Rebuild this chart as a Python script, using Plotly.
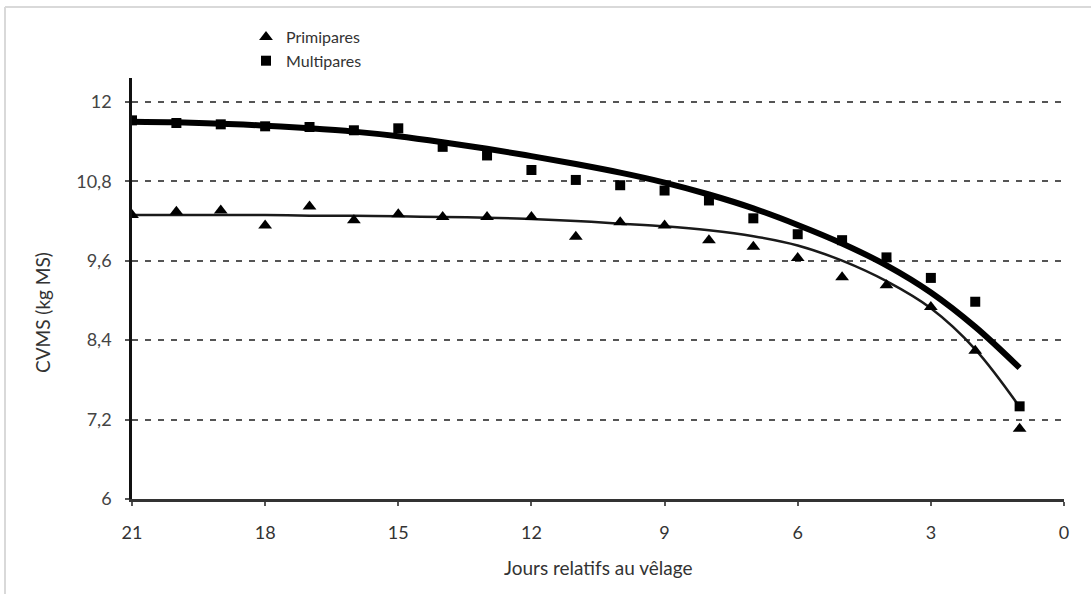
import plotly.graph_objects as go

# ---- data ----
days = [21, 20, 19, 18, 17, 16, 15, 14, 13, 12, 11, 10, 9, 8, 7, 6, 5, 4, 3, 2, 1]
primipares = [10.29, 10.34, 10.36, 10.13, 10.42, 10.21, 10.30, 10.26, 10.26, 10.26, 9.96,
              10.18, 10.13, 9.91, 9.81, 9.64, 9.35, 9.23, 8.90, 8.24, 7.06]
multipares = [11.72, 11.68, 11.66, 11.63, 11.62, 11.57, 11.60, 11.32, 11.19, 10.97, 10.82,
              10.74, 10.66, 10.51, 10.24, 10.00, 9.91, 9.65, 9.34, 8.98, 7.40]
fit_primipares = [10.29, 10.29, 10.29, 10.29, 10.28, 10.28, 10.27, 10.26, 10.25, 10.23, 10.20,
                  10.16, 10.12, 10.06, 9.97, 9.83, 9.60, 9.29, 8.88, 8.26, 7.39]
fit_multipares = [11.70, 11.69, 11.67, 11.64, 11.60, 11.55, 11.48, 11.39, 11.29, 11.18, 11.06,
                  10.93, 10.78, 10.60, 10.39, 10.14, 9.86, 9.53, 9.12, 8.60, 7.98]

x_ticks = [21, 18, 15, 12, 9, 6, 3, 0]
y_ticks = [6, 7.2, 8.4, 9.6, 10.8, 12]
y_ticktext = ["6", "7,2", "8,4", "9,6", "10,8", "12"]

FONT = "Lato, 'Open Sans', sans-serif"
W, H = 1091, 594
ML, MR, MT, MB = 132, 27, 78, 95

fig = go.Figure()

fig.add_trace(go.Scatter(x=days, y=fit_multipares, mode="lines", line=dict(color="#000000", width=6, shape="spline"),
                         showlegend=False, hoverinfo="skip"))
fig.add_trace(go.Scatter(x=days, y=fit_primipares, mode="lines", line=dict(color="#1a1a1a", width=2.5, shape="spline"),
                         showlegend=False, hoverinfo="skip"))
fig.add_trace(go.Scatter(x=days, y=primipares, mode="markers", name="Primipares",
                         marker=dict(symbol="triangle-up", size=12, color="#000000")))
fig.add_trace(go.Scatter(x=days, y=multipares, mode="markers", name="Multipares",
                         marker=dict(symbol="square", size=10, color="#000000")))

pw = W - ML - MR
ph = H - MT - MB
def px_x(p):
    return (p - ML) / pw
def px_y(p):
    return (H - MB - p) / ph

fig.update_layout(
    width=W, height=H,
    margin=dict(l=ML, r=MR, t=MT, b=MB),
    paper_bgcolor="white", plot_bgcolor="white",
    font=dict(family=FONT, size=18, color="#333333"),
    legend=dict(x=px_x(246), y=px_y(20), xanchor="left", yanchor="top",
                font=dict(size=16, color="#333333"), bgcolor="rgba(0,0,0,0)",
                tracegroupgap=0, itemwidth=30),
    xaxis=dict(range=[21, 0], tickvals=x_ticks, ticktext=[str(v) for v in x_ticks],
               showgrid=False, zeroline=False, showline=True, linecolor="#333333", linewidth=2.5,
               ticks="outside", ticklen=4, tickwidth=2, tickcolor="#555555",
               ticklabelstandoff=12, tickfont=dict(size=18, color="#333333")),
    yaxis=dict(range=[6, 12.36], tickvals=y_ticks, ticktext=y_ticktext,
               showgrid=True, gridcolor="#555555", gridwidth=2, griddash="6px,7px",
               zeroline=False, showline=True, linecolor="#111111", linewidth=2.5,
               ticks="outside", ticklen=4, tickwidth=2, tickcolor="#555555",
               ticklabelstandoff=10, tickfont=dict(size=18, color="#444444")),
    annotations=[
        dict(text="Jours relatifs au vêlage", xref="paper", yref="paper", x=0.5, y=px_y(567),
             xanchor="center", yanchor="middle", showarrow=False,
             font=dict(size=19, color="#333333", family=FONT)),
        dict(text="CVMS (kg MS)", xref="paper", yref="paper", x=px_x(42), y=px_y(313),
             xanchor="center", yanchor="middle", showarrow=False, textangle=-90,
             font=dict(size=19, color="#333333", family=FONT)),
    ],
    shapes=[
        dict(type="line", xref="paper", yref="paper", x0=px_x(5), x1=px_x(1091), y0=px_y(7), y1=px_y(7),
             line=dict(color="#d9d9d9", width=2), layer="below"),
        dict(type="line", xref="paper", yref="paper", x0=px_x(5), x1=px_x(5), y0=px_y(7), y1=px_y(594),
             line=dict(color="#d9d9d9", width=2), layer="below"),
    ],
)

fig.write_html("out.html")
